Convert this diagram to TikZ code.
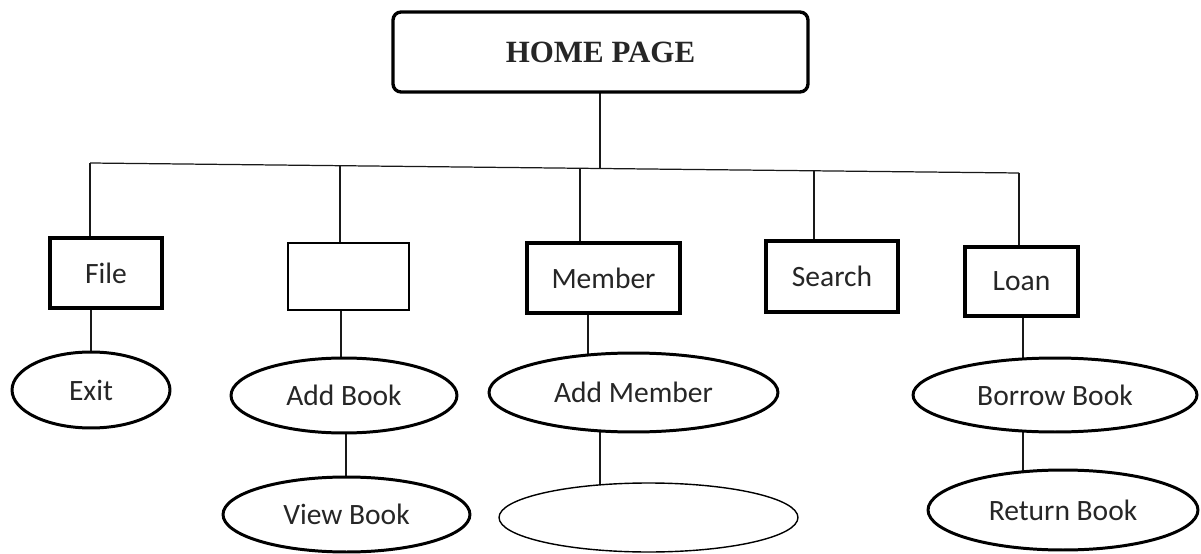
\documentclass[tikz,border=0pt]{standalone}
\usepackage{fontspec}
\setmainfont{Carlito}
\newfontfamily\homefont{Liberation Serif}
\usetikzlibrary{shapes.geometric,backgrounds}
\tikzset{
  lbl/.style={font=\fontsize{16.8}{19}\selectfont, text=black!85},
  thickbox/.style={draw, rectangle, line width=1.8pt, inner sep=0pt, fill=white, lbl},
  thinbox/.style={draw, rectangle, line width=0.9pt, inner sep=0pt, fill=white, lbl},
  oval/.style={draw, ellipse, line width=1.7pt, inner sep=0pt, fill=white, lbl},
  thinoval/.style={draw, ellipse, line width=0.8pt, inner sep=0pt, fill=white, lbl},
  conn/.style={draw, line width=0.7pt, black!90},
}
\begin{document}
\begin{tikzpicture}[x=0.02cm,y=-0.02cm]
\useasboundingbox (0,0) rectangle (1201,554);
% top
\node[draw, rectangle, rounded corners=0.16cm, line width=1.9pt, fill=white,
      minimum width=8.3cm, minimum height=1.6cm, inner sep=0pt,
      font=\homefont\bfseries\fontsize{17.6}{20}\selectfont, text=black!85]
      (home) at (600.5,52) {HOME PAGE};
% second level
\node[thickbox, minimum width=2.24cm, minimum height=1.4cm] (file) at (106,273) {File};
\node[thinbox, minimum width=2.42cm, minimum height=1.34cm] (blank) at (348.5,276.5) {};
\node[thickbox, minimum width=3.06cm, minimum height=1.4cm] (member) at (603.5,278) {Member};
\node[thickbox, minimum width=2.64cm, minimum height=1.42cm] (search) at (832,276.5) {Search};
\node[thickbox, minimum width=2.26cm, minimum height=1.38cm] (loan) at (1021.5,281.5) {Loan};
% third level
\node[oval, minimum width=3.16cm, minimum height=1.52cm] (exit) at (91,390) {Exit};
\node[oval, minimum width=4.52cm, minimum height=1.5cm] (addbook) at (344,395.5) {Add Book};
\node[oval, minimum width=4.94cm, minimum height=1.5cm] (viewbook) at (346.5,514.5) {View Book};
\node[oval, minimum width=5.78cm, minimum height=1.58cm] (addmember) at (633.5,392.5) {Add Member};
\node[thinoval, minimum width=5.98cm, minimum height=1.38cm] (blankoval) at (648.5,517.5) {};
\node[oval, minimum width=5.68cm, minimum height=1.48cm] (borrow) at (1055,395) {Borrow Book};
\node[oval, minimum width=5.4cm, minimum height=1.6cm] (return) at (1063,510) {Return Book};
% bus points
\coordinate (b1) at (90,163);
\coordinate (b2) at (340,165.7);
\coordinate (bh) at (600,168.5);
\coordinate (b3) at (580,168.3);
\coordinate (b4) at (814,170.8);
\coordinate (b5) at (1019,173);
\coordinate (x1) at (91,0);
\coordinate (x2) at (341,0);
\coordinate (x2b) at (346,0);
\coordinate (x3) at (588,0);
\coordinate (x3b) at (600,0);
\coordinate (x5) at (1023,0);
\begin{scope}[on background layer]
\draw[conn] (b1) -- (b5);
\draw[conn] (bh |- home.center) -- (bh);
\draw[conn] (b1) -- (b1 |- file.center);
\draw[conn] (b2) -- (b2 |- blank.center);
\draw[conn] (b3) -- (b3 |- member.center);
\draw[conn] (b4) -- (b4 |- search.center);
\draw[conn] (b5) -- (b5 |- loan.center);
\draw[conn] (x1 |- file.center) -- (x1 |- exit.center);
\draw[conn] (x2 |- blank.center) -- (x2 |- addbook.center);
\draw[conn] (x2b |- addbook.center) -- (x2b |- viewbook.center);
\draw[conn] (x3 |- member.center) -- (x3 |- addmember.center);
\draw[conn] (x3b |- addmember.center) -- (x3b |- blankoval.center);
\draw[conn] (x5 |- loan.center) -- (x5 |- borrow.center);
\draw[conn] (x5 |- borrow.center) -- (x5 |- return.center);
\end{scope}
\end{tikzpicture}
\end{document}
